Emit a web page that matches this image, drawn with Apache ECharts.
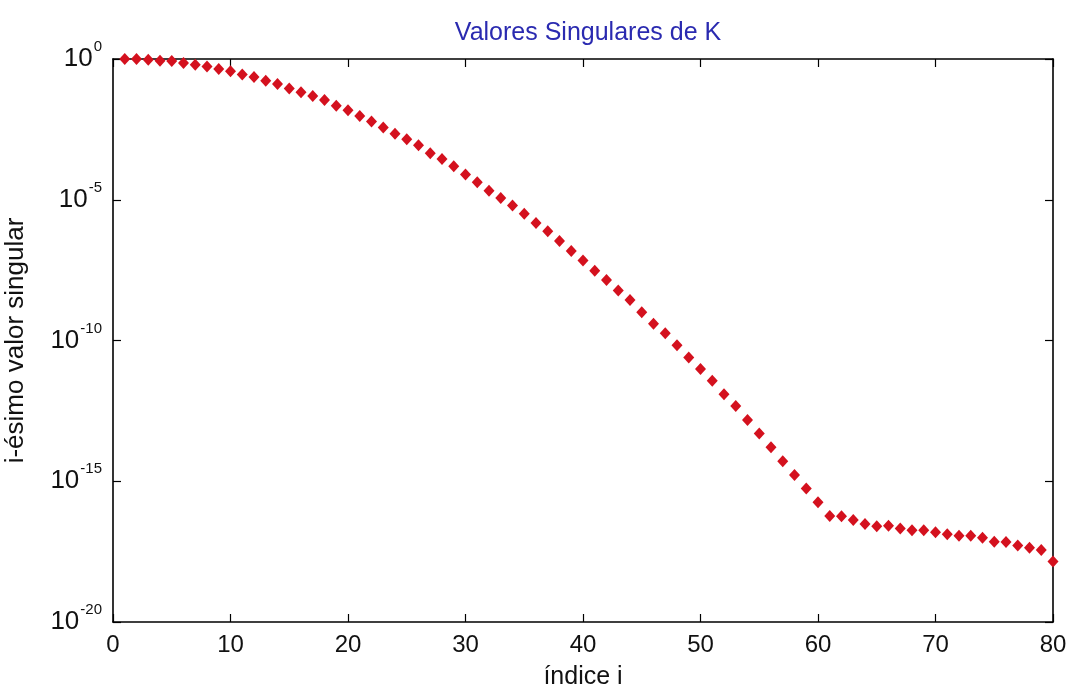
<!DOCTYPE html>
<html>
<head>
<meta charset="utf-8">
<script src="https://cdn.jsdelivr.net/npm/echarts@6/dist/echarts.min.js"></script>
<style>
html,body{margin:0;padding:0;background:#fff;}
#chart{width:1066px;height:689px;}
</style>
</head>
<body>
<div id="chart"></div>
<script>
// Data
const indices = [1,2,3,4,5,6,7,8,9,10,11,12,13,14,15,16,17,18,19,20,
  21,22,23,24,25,26,27,28,29,30,31,32,33,34,35,36,37,38,39,40,
  41,42,43,44,45,46,47,48,49,50,51,52,53,54,55,56,57,58,59,60,
  61,62,63,64,65,66,67,68,69,70,71,72,73,74,75,76,77,78,79,80];
const singularValues = [
  1.0, 0.99, 0.95, 0.87, 0.85, 0.72, 0.62, 0.54, 0.44, 0.37,
  0.28, 0.23, 0.17, 0.13, 0.089, 0.066, 0.048, 0.035, 0.022, 0.015,
  9.5e-3, 6.0e-3, 3.7e-3, 2.2e-3, 1.4e-3, 8.7e-4, 4.5e-4, 2.8e-4, 1.55e-4, 7.9e-5,
  4.2e-5, 2.1e-5, 1.15e-5, 6.2e-6, 3.2e-6, 1.5e-6, 7.6e-7, 3.4e-7, 1.5e-7, 6.9e-8,
  3.0e-8, 1.4e-8, 6.0e-9, 2.75e-9, 1.0e-9, 3.9e-10, 1.8e-10, 6.8e-11, 2.5e-11, 9.8e-12,
  3.7e-12, 1.23e-12, 4.7e-13, 1.5e-13, 5.0e-14, 1.6e-14, 5.1e-15, 1.66e-15, 5.5e-16, 1.8e-16,
  5.8e-17, 5.7e-17, 4.2e-17, 3.0e-17, 2.5e-17, 2.6e-17, 2.1e-17, 1.8e-17, 1.8e-17, 1.55e-17,
  1.3e-17, 1.15e-17, 1.15e-17, 9.8e-18, 7.1e-18, 7.0e-18, 5.2e-18, 4.3e-18, 3.6e-18, 1.4e-18
];
const xTicks = ['0','10','20','30','40','50','60','70','80'];
const yExponents = ['0','-5','-10','-15','-20'];
const titleText = 'Valores Singulares de K';
const xLabel = 'índice i';
const yLabel = 'i-ésimo valor singular';

const FONT = '"Liberation Sans", Arial, sans-serif';
const chart = echarts.init(document.getElementById('chart'), null, {renderer: 'canvas'});
const points = indices.map((x, k) => [x, singularValues[k]]);

const axisLine = {show: true, onZero: false, lineStyle: {color: '#000', width: 1.6}};
const axisTick = {show: true, inside: true, length: 8, lineStyle: {color: '#000', width: 1.2}};

chart.setOption({
  backgroundColor: '#fff',
  animation: false,
  title: {
    text: titleText,
    left: 583, top: 16, textAlign: 'center',
    textStyle: {color: '#2a2ab0', fontFamily: FONT, fontSize: 25, fontWeight: 'normal'}
  },
  grid: {left: 113, right: 13, top: 59, bottom: 67, containLabel: false, outerBoundsMode: 'none'},
  xAxis: [{
    type: 'value', min: 0, max: 80, interval: 10, position: 'bottom',
    name: xLabel, nameLocation: 'middle', nameGap: 43,
    nameTextStyle: {color: '#111', fontFamily: FONT, fontSize: 25},
    axisLine: axisLine, axisTick: axisTick, splitLine: {show: false},
    axisLabel: {color: '#111', fontFamily: FONT, fontSize: 24, margin: 11,
      formatter: v => xTicks[Math.round(v / 10)]}
  }, {
    type: 'value', min: 0, max: 80, interval: 10, position: 'top',
    axisLine: axisLine, axisTick: axisTick, splitLine: {show: false},
    axisLabel: {show: false}
  }],
  yAxis: [{
    type: 'log', logBase: 10, min: 1e-20, max: 1, interval: 5, position: 'left',
    name: yLabel, nameLocation: 'middle', nameGap: 84, nameRotate: 90,
    nameTextStyle: {color: '#111', fontFamily: FONT, fontSize: 26},
    axisLine: axisLine, axisTick: axisTick, splitLine: {show: false}, minorTick: {show: false},
    axisLabel: {
      color: '#111', margin: 11,
      formatter: function (v) {
        const e = Math.round(Math.log10(v));
        const idx = Math.round(-e / 5);
        return '{b|10}{e|' + yExponents[idx] + '}';
      },
      rich: {
        b: {fontFamily: FONT, fontSize: 26, color: '#111'},
        e: {fontFamily: FONT, fontSize: 15, color: '#111', padding: [0, 0, 24, 1]}
      }
    }
  }, {
    type: 'log', logBase: 10, min: 1e-20, max: 1, interval: 5, position: 'right',
    axisLine: axisLine, axisTick: axisTick, splitLine: {show: false},
    axisLabel: {show: false}
  }],
  series: [{
    type: 'scatter',
    xAxisIndex: 0, yAxisIndex: 0,
    symbol: 'diamond', symbolSize: [11, 12],
    itemStyle: {color: '#d4111e', opacity: 1},
    data: points
  }]
});
</script>
</body>
</html>
